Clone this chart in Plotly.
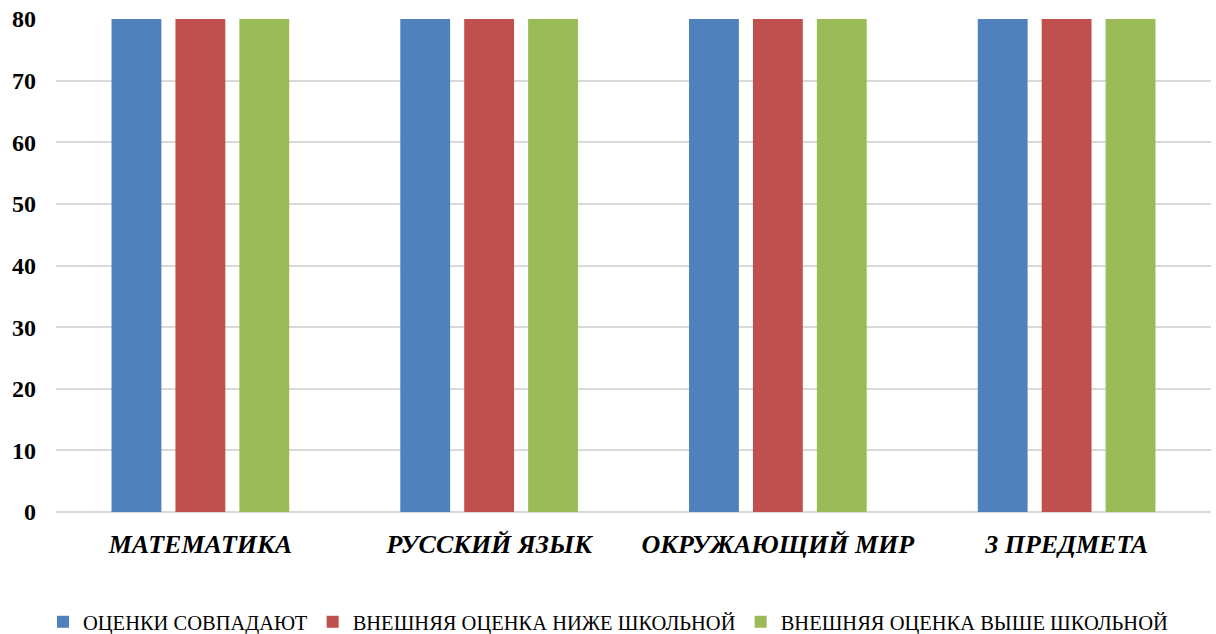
import plotly.graph_objects as go

categories = ["МАТЕМАТИКА", "РУССКИЙ ЯЗЫК", "ОКРУЖАЮЩИЙ МИР", "3 ПРЕДМЕТА"]
series_names = ["ОЦЕНКИ СОВПАДАЮТ", "ВНЕШНЯЯ ОЦЕНКА НИЖЕ ШКОЛЬНОЙ", "ВНЕШНЯЯ ОЦЕНКА ВЫШЕ ШКОЛЬНОЙ"]
match_vals = [80, 80, 80, 80]
lower_vals = [80, 80, 80, 80]
higher_vals = [80, 80, 80, 80]
colors = ["#4F81BD", "#C0504D", "#9BBB59"]
y_ticks = [0, 10, 20, 30, 40, 50, 60, 70, 80]

SERIF = "'Times New Roman', 'Liberation Serif', 'DejaVu Serif', serif"

fig = go.Figure()
for name, vals, col in zip(series_names, [match_vals, lower_vals, higher_vals], colors):
    fig.add_trace(go.Bar(x=categories, y=vals, name=name, marker_color=col,
                         marker_line_width=0))

fig.update_layout(
    width=1216, height=634,
    paper_bgcolor="white", plot_bgcolor="white",
    margin=dict(l=56, r=5, t=19, b=122, autoexpand=False),
    barmode="group", bargap=0.336, bargroupgap=0.22,
    font=dict(family=SERIF, color="black"),
    legend=dict(orientation="h", x=0.5, xanchor="center", xref="container",
                y=0.019, yanchor="middle", yref="container",
                font=dict(size=20.5, family=SERIF), itemwidth=30,
                traceorder="normal"),
    showlegend=True,
)
fig.update_xaxes(tickfont=dict(size=26, family=SERIF, weight="bold", style="italic"),
                 showline=False, ticks="", showgrid=False, automargin=False,
                 ticklabelstandoff=14)
fig.update_yaxes(range=[0, 80], tickvals=y_ticks, showgrid=True, gridcolor="#d9d9d9", gridwidth=1.5,
                 zeroline=True, zerolinecolor="#d9d9d9", zerolinewidth=1.5,
                 tickfont=dict(size=24, family=SERIF, weight="bold"),
                 ticklabelstandoff=19, showline=False, ticks="", automargin=False)
fig.write_html("out.html", config={"displayModeBar": False},
               post_script="document.body.style.margin='0';document.body.style.overflow='hidden';")
